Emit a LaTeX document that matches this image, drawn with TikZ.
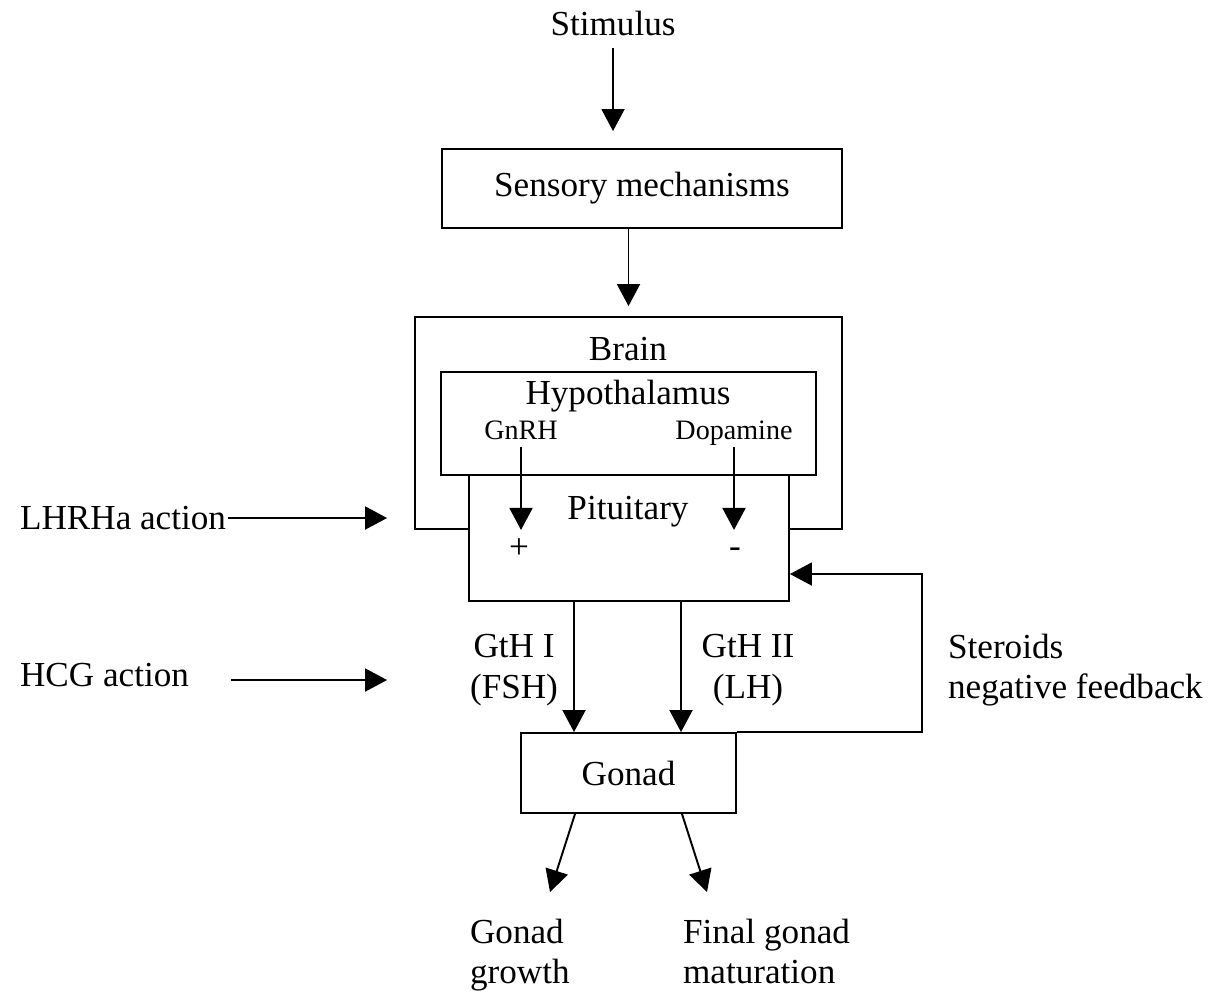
\documentclass[tikz,border=0pt]{standalone}
\usepackage{fontspec}
\setmainfont{Liberation Serif}
\usetikzlibrary{arrows.meta}

\begin{document}
\begin{tikzpicture}[x=0.02cm, y=-0.02cm,
        txt/.style={font=\fontsize{20}{23}\selectfont, inner sep=1pt},
        smalltxt/.style={font=\fontsize{16}{19}\selectfont, inner sep=2pt, text height=0.7em, text depth=0.22em},
        box/.style={draw, line width=1.1pt, fill=white, inner sep=0pt},
        arr/.style={line width=1.1pt, -{Triangle[length=0.44cm, width=0.46cm]}}]
        \useasboundingbox (0,0) rectangle (1212,995);

        % Draw nodes
        \node[txt] (stim) at (613,23) {Stimulus};
        \node[box, txt, minimum width=8cm, minimum height=1.58cm] (sens) at (642,188.5) {Sensory mechanisms};
        \node[box, minimum width=8.54cm, minimum height=4.24cm] (brain) at (628.5,423) {};
        \node[box, minimum width=6.4cm, minimum height=2.52cm] (pit) at (629,538) {};
        \node[box, minimum width=7.5cm, minimum height=2.06cm] (hyp) at (628.5,423.5) {};
        \node[box, txt, minimum width=4.3cm, minimum height=1.6cm] (gon) at (628.5,773) {Gonad};

        % Labels
        \node[txt] (brainlbl) at (628,349) {Brain};
        \node[txt] (hyplbl) at (628,396) {Hypothalamus};
        \node[smalltxt] (gnrh) at (521,435) {GnRH};
        \node[smalltxt] (dopa) at (734,435) {Dopamine};
        \node[txt] (pitlbl) at (628,512) {Pituitary};
        \node[txt] (plus) at (519,549) {+};
        \node[txt] (minus) at (735,553) {-};
        \node[txt, anchor=west] (lhrha) at (18,518) {LHRHa action};
        \node[txt, anchor=west] (hcg) at (18,675) {HCG action};
        \node[txt, align=center] (gth1) at (514,670) {GtH I\\(FSH)};
        \node[txt, align=center] (gth2) at (748,670) {GtH II\\(LH)};
        \node[txt, align=left, anchor=west] (ster) at (946,670) {Steroids\\negative feedback};
        \node[txt, align=left, anchor=north west] (growth) at (468,917) {Gonad\\growth};
        \node[txt, align=left, anchor=north west] (matur) at (681,917) {Final gonad\\maturation};
        \coordinate (fb) at (922,574);
        \coordinate (g1) at (550,892);
        \coordinate (g2) at (707,892);

        % Draw connections
        \draw[arr, shorten <=0.22cm, shorten >=0.34cm] (stim.south) -- (stim.south |- sens.north);
        \draw[arr, shorten >=0.2cm] (sens.south -| brain) -- (brain.north);
        \draw[arr] (gnrh.south) -- (gnrh.south |- brain.south);
        \draw[arr] (dopa.south) -- (dopa.south |- brain.south);
        \draw[arr, shorten >=0.54cm] (lhrha.east) -- (lhrha.east -| brain.west);
        \draw[arr, shorten <=0.8cm, shorten >=0.54cm] (hcg.east |- 0,680) -- (brain.west |- 0,680);
        \draw[arr] (pit.south -| 574,0) -- (gon.north -| 574,0);
        \draw[arr] (pit.south -| 681,0) -- (gon.north -| 681,0);
        \draw[arr] (gon.north east) -| (fb) -- (fb -| pit.east);
        \draw[arr] (gon.south -| 575,0) -- (g1);
        \draw[arr] (gon.south -| 682,0) -- (g2);
\end{tikzpicture}
\end{document}
